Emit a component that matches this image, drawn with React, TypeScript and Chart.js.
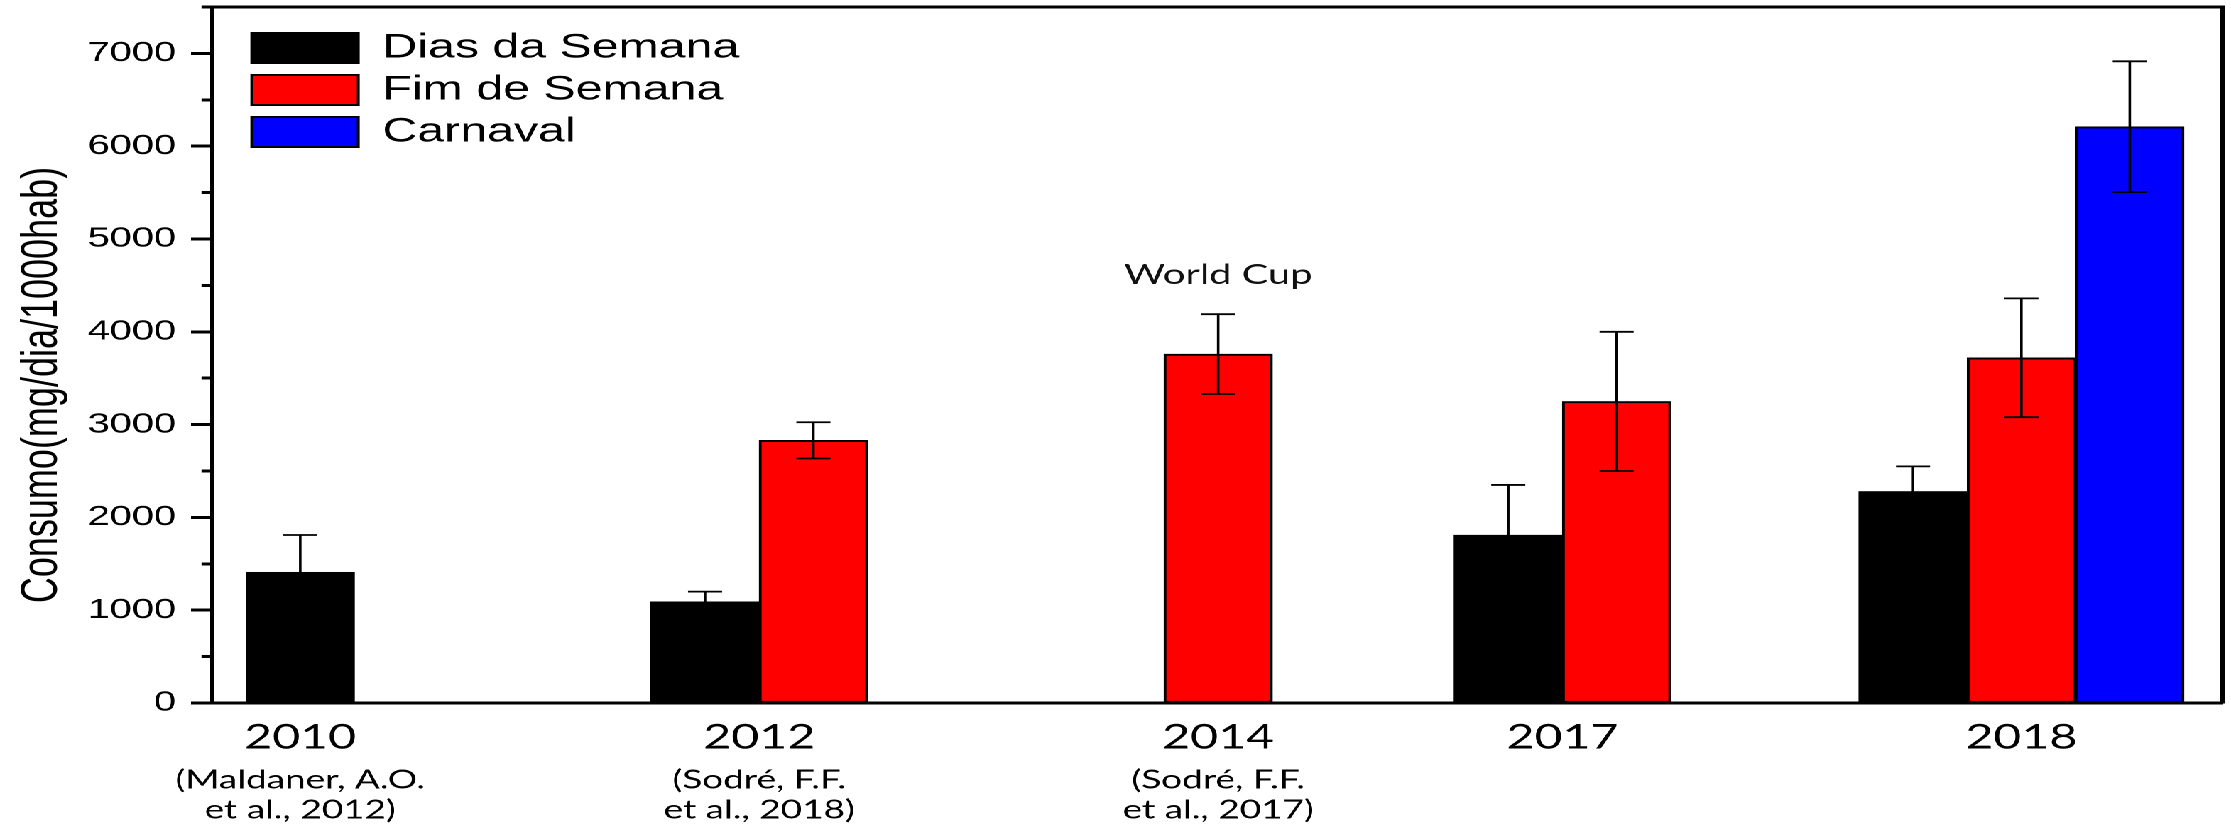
import React, { useEffect, useRef } from 'react';
import { Chart, registerables } from 'chart.js';

Chart.register(...registerables);

// ---------------- data ----------------
const categories = ['2010', '2012', '2014', '2017', '2018'];
// position of each category group along the (unevenly spaced) x axis
const categorySlots = [0, 4, 8, 11, 15];
const citations: (string | string[])[] = [
  ['(Maldaner, A.O.', 'et al., 2012)'],
  ['(Sodré, F.F.', 'et al., 2018)'],
  ['(Sodré, F.F.', 'et al., 2017)'],
  '',
  '',
];
const seriesLabels = ['Dias da Semana', 'Fim de Semana', 'Carnaval'];
const weekdayValues = [1410, 1090, null, 1810, 2280];
const weekdayErrors = [400, 110, null, 540, 270];
const weekendValues = [null, 2830, 3760, 3250, 3720];
const weekendErrors = [null, 195, 430, 750, 640];
const carnivalValues = [null, null, null, null, 6210];
const carnivalErrors = [null, null, null, null, 705];
const yAxisTitle = 'Consumo(mg/dia/1000hab)';
const annotationCategory = '2014';
const annotationText = 'World Cup';

// ---------------- layout (unstretched canvas, stretched horizontally by CSS) ----------------
const CANVAS_W = 1571;
const CANVAS_H = 828;
const STRETCH = 2231 / CANVAS_W;
const X_MIN = -0.769;
const X_MAX = 16.75;

const noPad = (s: any) => {
  s.paddingLeft = 0;
  s.paddingRight = 0;
  s.paddingTop = 0;
  s.paddingBottom = 0;
};

const toPoints = (vals: (number | null)[]) =>
  categorySlots.map((x, i) => ({ x, y: vals[i] }));

const errorBarsPlugin = {
  id: 'errorBars',
  afterDatasetsDraw(chart: any) {
    const ctx = chart.ctx;
    const yScale = chart.scales.y;
    chart.data.datasets.forEach((ds: any, i: number) => {
      const meta = chart.getDatasetMeta(i);
      const errs = ds.errors || [];
      meta.data.forEach((bar: any, j: number) => {
        const v = ds.data[j].y;
        const e = errs[j];
        if (v == null || e == null) return;
        const x = bar.x;
        const top = yScale.getPixelForValue(v + e);
        const bot = yScale.getPixelForValue(v - e);
        ctx.save();
        ctx.strokeStyle = '#000000';
        ctx.lineWidth = 1.8;
        ctx.beginPath();
        ctx.moveTo(x, top);
        ctx.lineTo(x, bot);
        ctx.moveTo(x - 12, top);
        ctx.lineTo(x + 12, top);
        ctx.moveTo(x - 12, bot);
        ctx.lineTo(x + 12, bot);
        ctx.stroke();
        ctx.restore();
      });
    });
  },
};

const annotationPlugin = {
  id: 'worldCupNote',
  afterDatasetsDraw(chart: any) {
    const idx = categories.indexOf(annotationCategory);
    const v = weekendValues[idx];
    const e = weekendErrors[idx] || 0;
    if (v == null) return;
    const ctx = chart.ctx;
    const x = chart.scales.x.getPixelForValue(categorySlots[idx]);
    const y = chart.scales.y.getPixelForValue(v + e) - 30;
    ctx.save();
    ctx.font = '28px Lato, "Open Sans", sans-serif';
    ctx.fillStyle = '#111';
    ctx.textAlign = 'center';
    ctx.textBaseline = 'alphabetic';
    ctx.fillText(annotationText, x, y);
    ctx.restore();
  },
};

const yTitlePlugin = {
  id: 'yTitle',
  afterDraw(chart: any) {
    const ca = chart.chartArea;
    const ctx = chart.ctx;
    ctx.save();
    ctx.translate(30, (ca.top + ca.bottom) / 2 + 30);
    ctx.rotate(-Math.PI / 2);
    ctx.font = '36px "Liberation Sans", Arial, sans-serif';
    ctx.fillStyle = '#000';
    ctx.textAlign = 'center';
    ctx.textBaseline = 'middle';
    ctx.fillText(yAxisTitle, 0, 0);
    ctx.restore();
  },
};

const legendOffsetPlugin = {
  id: 'legendOffset',
  afterLayout(chart: any) {
    const l = chart.legend;
    if (!l) return;
    const ca = chart.chartArea;
    l.left = ca.left + 20;
    l.top = ca.top + 16;
    l.right = ca.right;
    l.bottom = ca.bottom;
  },
};

const isMinor = (c: any) => c && c.tick && c.tick.value % 1000 !== 0;

export default function App() {
  const canvasRef = useRef<HTMLCanvasElement | null>(null);

  useEffect(() => {
    const canvas = canvasRef.current;
    if (!canvas) return;
    Chart.defaults.color = '#000';

    const barCommon = {
      borderColor: '#000000',
      borderWidth: 2,
      borderSkipped: false,
      barThickness: 76.3,
      skipNull: true,
      xAxisID: 'x',
      yAxisID: 'y',
    };

    const chart = new Chart(canvas, {
      type: 'bar',
      data: {
        datasets: [
          { ...barCommon, label: seriesLabels[0], data: toPoints(weekdayValues), backgroundColor: '#000000', errors: weekdayErrors } as any,
          { ...barCommon, label: seriesLabels[1], data: toPoints(weekendValues), backgroundColor: '#FF0000', errors: weekendErrors } as any,
          { ...barCommon, label: seriesLabels[2], data: toPoints(carnivalValues), backgroundColor: '#0000FF', errors: carnivalErrors } as any,
        ],
      },
      options: {
        responsive: false,
        animation: false,
        devicePixelRatio: 2,
        layout: { padding: { top: 7, right: 6.2, left: 0, bottom: 0 } },
        datasets: { bar: { skipNull: true } } as any,
        plugins: {
          tooltip: { enabled: false },
          legend: {
            position: 'chartArea' as any,
            align: 'start',
            labels: {
              boxWidth: 75,
              boxHeight: 30,
              padding: 8,
              color: '#000',
              font: { family: '"Liberation Sans", Arial, sans-serif', size: 34 },
            },
          },
        },
        scales: {
          x: {
            type: 'linear',
            position: 'bottom',
            min: X_MIN,
            max: X_MAX,
            bounds: 'data',
            offset: false,
            weight: 0,
            grid: { display: false, drawTicks: false },
            border: { display: true, color: '#000', width: 3 },
            afterBuildTicks: (axis: any) => {
              axis.ticks = categorySlots.map((value) => ({ value }));
            },
            ticks: {
              autoSkip: false,
              maxRotation: 0,
              minRotation: 0,
              padding: 14,
              color: '#000',
              font: { family: 'Lato, "Open Sans", sans-serif', size: 34 },
              callback: (_v: any, i: number) => categories[i],
            },
            afterFit: (s: any) => {
              s.height = 57;
              noPad(s);
            },
          } as any,
          xCite: {
            type: 'linear',
            axis: 'x',
            position: 'bottom',
            min: X_MIN,
            max: X_MAX,
            bounds: 'data',
            offset: false,
            weight: 1,
            grid: { display: false, drawTicks: false },
            border: { display: false },
            afterBuildTicks: (axis: any) => {
              axis.ticks = categorySlots.map((value) => ({ value }));
            },
            ticks: {
              autoSkip: false,
              maxRotation: 0,
              minRotation: 0,
              padding: 5,
              color: '#000',
              font: { family: 'Lato, "Open Sans", sans-serif', size: 26, lineHeight: 1.154 },
              callback: (_v: any, i: number) => citations[i],
            },
            afterFit: (s: any) => {
              s.height = 68;
              noPad(s);
            },
          } as any,
          xTop: {
            type: 'linear',
            axis: 'x',
            position: 'top',
            offset: false,
            grid: { display: false, drawTicks: false },
            ticks: { display: false },
            border: { display: true, color: '#000', width: 3 },
            afterFit: (s: any) => {
              s.height = 0;
              noPad(s);
            },
          } as any,
          y: {
            type: 'linear',
            position: 'left',
            min: 0,
            max: 7500,
            weight: 0,
            grid: {
              display: true,
              drawOnChartArea: false,
              drawTicks: true,
              tickLength: 14.8,
              tickWidth: 3,
              tickColor: '#000',
              tickBorderDash: (c: any) => (isMinor(c) ? [7.4, 7.4] : []),
              tickBorderDashOffset: (c: any) => (isMinor(c) ? 7.4 : 0),
            },
            border: { display: true, color: '#000', width: 2.8 },
            ticks: {
              stepSize: 500,
              autoSkip: false,
              padding: 10.5,
              color: '#000',
              font: { family: '"Liberation Sans", Arial, sans-serif', size: 28 },
              callback: (v: any) => (Number(v) % 1000 === 0 ? String(v) : ''),
            },
            afterFit: (s: any) => {
              s.width = 149.3;
              noPad(s);
            },
          } as any,
          yRight: {
            type: 'linear',
            axis: 'y',
            position: 'right',
            grid: { display: false, drawTicks: false },
            ticks: { display: false },
            border: { display: true, color: '#000', width: 3.5 },
            afterFit: (s: any) => {
              s.width = 0;
              noPad(s);
            },
          } as any,
        },
      } as any,
      plugins: [errorBarsPlugin, annotationPlugin, yTitlePlugin, legendOffsetPlugin],
    });

    return () => {
      chart.destroy();
    };
  }, []);

  return (
    <div
      style={{
        position: 'fixed',
        left: 0,
        top: 0,
        width: CANVAS_W,
        height: CANVAS_H,
        transform: `scaleX(${STRETCH})`,
        transformOrigin: '0 0',
        background: '#ffffff',
      }}
    >
      <canvas
        ref={canvasRef}
        width={CANVAS_W}
        height={CANVAS_H}
        style={{ display: 'block', width: CANVAS_W, height: CANVAS_H }}
      />
    </div>
  );
}
